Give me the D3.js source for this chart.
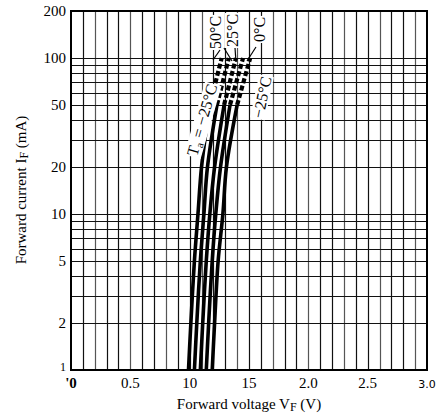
<!DOCTYPE html>
<html>
<head>
<meta charset="utf-8">
<script src="https://cdn.jsdelivr.net/npm/d3@7"></script>
<style>
  body { margin: 0; background: #fff; }
  svg { display: block; }
  text { font-family: "Liberation Serif", "DejaVu Serif", serif; fill: #000; }
</style>
</head>
<body>
<svg width="437" height="414"></svg>
<script>
// data
var currents = [1, 2, 5, 10, 20, 50, 100];
var vfCurve1 = [0.99, 1.01, 1.04, 1.07, 1.10, 1.17, 1.27];
var vfCurve2 = [1.04, 1.06, 1.09, 1.12, 1.15, 1.23, 1.33];
var vfCurve3 = [1.09, 1.11, 1.14, 1.17, 1.21, 1.29, 1.39];
var vfCurve4 = [1.14, 1.16, 1.19, 1.22, 1.26, 1.34, 1.45];
var vfCurve5 = [1.19, 1.21, 1.24, 1.28, 1.31, 1.40, 1.51];
var dashFrom = 50; // curves dashed above this current

var xTicks = [0, 0.5, 1.0, 1.5, 2.0, 2.5, 3.0];
var xTickLabels = ["'0", "0.5", "10", "15", "2.0", "2.5", "3.0"];
var yTicks = [1, 2, 5, 10, 20, 50, 100, 200];
var yGrid = [1, 2, 3, 4, 5, 6, 7, 8, 9, 10, 20, 30, 40, 50, 60, 70, 80, 90, 100];

var svg = d3.select('svg');
// plot box (window.top is taken, so own names)
var plotL = 71, plotR = 427, plotT = 11, plotB = 370;

var x = d3.scaleLinear().domain([0, 3]).range([plotL, plotR]);
var y = d3.scaleLog().domain([1, 200]).range([plotB, plotT]);

// vertical grid every 0.1 V
var vGrid = d3.range(1, 30).map(function(i){ return i / 10; });
svg.append('g').selectAll('line')
	.data(vGrid)
	.enter()
	.append('line')
	.attr('x1', function(d){ return Math.round(x(d)) + 0.5; })
	.attr('x2', function(d){ return Math.round(x(d)) + 0.5; })
	.attr('y1', plotT)
	.attr('y2', plotB)
	.attr('stroke', function(d, i){ return i % 3 == 1 ? '#555' : '#111'; })
	.attr('stroke-width', 1.2);

// horizontal grid
svg.append('g').selectAll('line')
	.data(yGrid)
	.enter()
	.append('line')
	.attr('x1', plotL)
	.attr('x2', plotR)
	.attr('y1', function(d){ return Math.round(y(d)) + 0.5; })
	.attr('y2', function(d){ return Math.round(y(d)) + 0.5; })
	.attr('stroke', '#111')
	.attr('stroke-width', 1.2);

// frame
svg.append('rect')
	.attr('x', plotL).attr('y', plotT)
	.attr('width', plotR - plotL).attr('height', plotB - plotT)
	.attr('fill', 'none')
	.attr('stroke', '#000')
	.attr('stroke-width', 2);

// curves
var line = d3.line()
	.x(function(d){ return x(d.v); })
	.y(function(d){ return y(d.i); })
	.curve(d3.curveCatmullRom.alpha(0.5));

var curves = [vfCurve1, vfCurve2, vfCurve3, vfCurve4, vfCurve5];
curves.forEach(function(vals){
	var pts = vals.map(function(v, k){ return {v: v, i: currents[k]}; });
	var solid = pts.filter(function(p){ return p.i <= dashFrom; });
	var dashed = pts.filter(function(p){ return p.i >= dashFrom; });
	svg.append('path')
		.attr('d', line(solid))
		.attr('fill', 'none')
		.attr('stroke', '#000')
		.attr('stroke-width', 3.6);
	svg.append('path')
		.attr('d', line(dashed))
		.attr('fill', 'none')
		.attr('stroke', '#000')
		.attr('stroke-width', 4.2)
		.attr('stroke-dasharray', '5,2.5');
});

// x tick labels
svg.append('g').selectAll('text')
	.data(xTicks)
	.enter()
	.append('text')
	.attr('x', function(d){ return x(d); })
	.attr('y', 388)
	.attr('text-anchor', 'middle')
	.style('font-size', function(d, i){ return i == 6 ? '11px' : '15px'; })
	.style('font-family', function(d, i){ return i == 6 ? 'DejaVu Sans, sans-serif' : null; })
	.style('font-weight', function(d, i){ return i == 0 ? 'bold' : null; })
	.text(function(d, i){ return xTickLabels[i]; });

// y tick labels
svg.append('g').selectAll('text')
	.data(yTicks)
	.enter()
	.append('text')
	.attr('x', 66)
	.attr('y', function(d){ return y(d) + (d == 1 ? 1 : 5); })
	.attr('text-anchor', 'end')
	.style('font-size', function(d){ return d == 1 ? '12px' : '15px'; })
	.text(function(d){ return d; });

// axis titles
var xt = svg.append('text')
	.attr('x', 249).attr('y', 409)
	.attr('text-anchor', 'middle')
	.style('font-size', '15px');
xt.append('tspan').text('Forward voltage V');
xt.append('tspan').attr('dy', 2).style('font-size', '12px').text('F');
xt.append('tspan').attr('dy', -2).text(' (V)');

var yt = svg.append('text')
	.attr('transform', 'translate(26,190) rotate(-90)')
	.attr('text-anchor', 'middle')
	.style('font-size', '15px');
yt.append('tspan').text('Forward current I');
yt.append('tspan').attr('dy', 2).style('font-size', '12px').text('F');
yt.append('tspan').attr('dy', -2).text(' (mA)');

// temperature labels, white backing like the printed chart
function rotLabel(tx, ty, angle, parts){
	var g = svg.append('g')
		.attr('transform', 'translate(' + tx + ',' + ty + ') rotate(' + angle + ')');
	var t = g.append('text').style('font-size', '16px');
	parts.forEach(function(p){
		var s = t.append('tspan').text(p.t);
		if (p.sub) s.attr('dy', 3).style('font-size', '11px');
		if (p.up) s.attr('dy', -3);
	});
	var b = t.node().getBBox();
	g.insert('rect', 'text')
		.attr('x', b.x - 1).attr('y', b.y + 1)
		.attr('width', b.width + 2).attr('height', b.height - 2)
		.attr('fill', '#fff');
	return g;
}
rotLabel(221, 49, -90, [{t: '50°C'}]);
rotLabel(238, 47, -90, [{t: '25°C'}]);
rotLabel(265, 42, -90, [{t: '0°C'}]);
rotLabel(197, 157, -74, [{t: 'T'}, {t: 'a', sub: true}, {t: ' = −25°C', up: true}]);
rotLabel(263, 119, -78, [{t: '−25°C'}]);

// leader lines
var leaders = [
	[[224, 48], [232, 61]],
	[[235, 48], [236, 62]],
	[[256, 47], [247, 61]],
	[[213, 60], [220, 50]]
];
leaders.forEach(function(l){
	svg.append('line')
		.attr('x1', l[0][0]).attr('y1', l[0][1])
		.attr('x2', l[1][0]).attr('y2', l[1][1])
		.attr('stroke', '#000')
		.attr('stroke-width', 1.2);
});
</script>
</body>
</html>
